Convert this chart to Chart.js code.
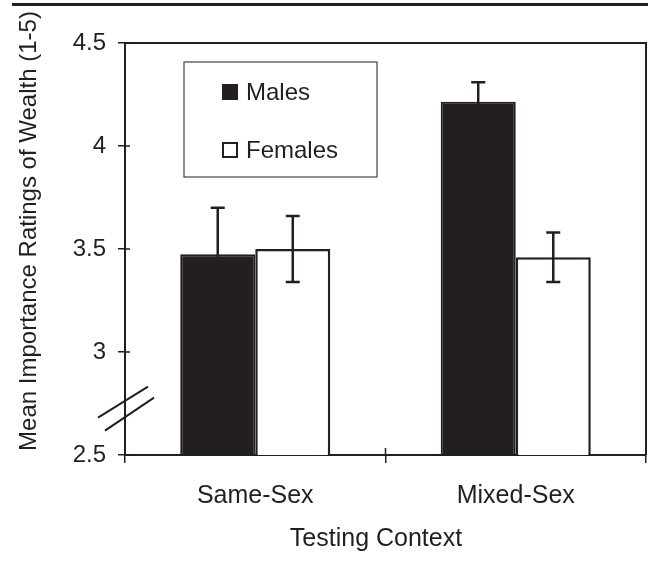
<!DOCTYPE html>
<html>
<head>
<meta charset="utf-8">
<script src="https://cdn.jsdelivr.net/npm/chart.js@4"></script>
<style>
  html, body { margin: 0; padding: 0; background: #ffffff; }
  #wrap { width: 648px; height: 569px; position: relative; }
</style>
</head>
<body>
<div id="wrap"><canvas id="c" width="648" height="569"></canvas></div>
<script>
// ---- data ----
const categories = ['Same-Sex', 'Mixed-Sex'];
const seriesNames = ['Males', 'Females'];
const malesMeans = [3.475, 4.215];
const femalesMeans = [3.50, 3.46];
const malesErr = [0.225, 0.095];
const femalesErr = [0.16, 0.12];
const yTicks = [2.5, 3, 3.5, 4, 4.5];
const yTitle = 'Mean Importance Ratings of Wealth (1-5)';
const xTitle = 'Testing Context';

const INK = '#231f20';
const FONT = "'Liberation Sans', Arial, sans-serif";

const errorsByDataset = [malesErr, femalesErr];

const decorPlugin = {
  id: 'decor',
  afterDatasetsDraw(chart) {
    const ctx = chart.ctx;
    const y = chart.scales.y;
    ctx.save();
    ctx.strokeStyle = INK;
    ctx.lineWidth = 2.5;
    chart.data.datasets.forEach((ds, di) => {
      const meta = chart.getDatasetMeta(di);
      meta.data.forEach((bar, i) => {
        const v = ds.data[i];
        const e = errorsByDataset[di][i];
        const x = bar.x;
        const yt = y.getPixelForValue(v + e);
        const yb = y.getPixelForValue(v - e);
        ctx.beginPath();
        ctx.moveTo(x, yt); ctx.lineTo(x, yb);
        ctx.moveTo(x - 7, yt); ctx.lineTo(x + 7, yt);
        ctx.moveTo(x - 7, yb); ctx.lineTo(x + 7, yb);
        ctx.stroke();
      });
    });
    ctx.restore();
  },
  afterDraw(chart) {
    const ctx = chart.ctx;
    const a = chart.chartArea;
    const y = chart.scales.y;
    const x = chart.scales.x;
    ctx.save();
    // top rule of the figure
    ctx.fillStyle = INK;
    ctx.fillRect(12, 3, 636, 3);
    // plot frame top & right
    ctx.strokeStyle = INK;
    ctx.lineWidth = 2;
    ctx.beginPath();
    ctx.moveTo(a.left, a.top); ctx.lineTo(a.right, a.top); ctx.lineTo(a.right, a.bottom);
    ctx.stroke();
    // inner tick stubs
    ctx.lineWidth = 1.5;
    ctx.beginPath();
    yTicks.forEach(t => {
      const py = y.getPixelForValue(t);
      ctx.moveTo(a.left, py); ctx.lineTo(a.left + 5, py);
    });
    const midX = (x.getPixelForValue(0) + x.getPixelForValue(1)) / 2;
    ctx.moveTo(midX, a.bottom); ctx.lineTo(midX, a.bottom - 7);
    ctx.stroke();
    // axis break marks
    const by = y.getPixelForValue(2.73);
    ctx.lineWidth = 2;
    ctx.beginPath();
    ctx.moveTo(a.left - 27, by + 10); ctx.lineTo(a.left + 23, by - 21);
    ctx.moveTo(a.left - 20, by + 23); ctx.lineTo(a.left + 29, by - 10);
    ctx.stroke();
    // legend box
    const lx = a.left + 59, ly = a.top + 19, lw = 193, lh = 115;
    ctx.lineWidth = 1.2;
    ctx.strokeStyle = '#444';
    ctx.strokeRect(lx, ly, lw, lh);
    ctx.font = '24px ' + FONT;
    ctx.textBaseline = 'middle';
    ctx.textAlign = 'left';
    const rows = [ly + 30, ly + 88];
    chart.data.datasets.forEach((ds, di) => {
      const cy = rows[di];
      if (di === 0) {
        ctx.fillStyle = INK;
        ctx.fillRect(lx + 38, cy - 8, 16, 16);
      } else {
        ctx.fillStyle = '#fff';
        ctx.fillRect(lx + 38, cy - 8, 16, 16);
        ctx.strokeStyle = INK;
        ctx.lineWidth = 2;
        ctx.strokeRect(lx + 39, cy - 7, 14, 14);
      }
      ctx.fillStyle = INK;
      ctx.fillText(ds.label, lx + 62, cy + 1);
    });
    // axis titles
    ctx.fillStyle = INK;
    ctx.font = '25px ' + FONT;
    ctx.textAlign = 'center';
    ctx.textBaseline = 'middle';
    ctx.fillText(xTitle, 376, 539);
    ctx.font = '24px ' + FONT;
    ctx.translate(29, 231);
    ctx.rotate(-Math.PI / 2);
    ctx.fillText(yTitle, 0, 0);
    ctx.restore();
  }
};

new Chart(document.getElementById('c'), {
  type: 'bar',
  data: {
    labels: categories,
    datasets: [
      {
        label: seriesNames[0],
        data: malesMeans,
        backgroundColor: INK,
        borderColor: INK,
        borderWidth: 2
      },
      {
        label: seriesNames[1],
        data: femalesMeans,
        backgroundColor: '#ffffff',
        borderColor: INK,
        borderWidth: 2.5
      }
    ]
  },
  options: {
    responsive: false,
    animation: false,
    devicePixelRatio: 1,
    layout: { padding: { left: 0, right: 2, top: 43, bottom: 0 } },
    datasets: { bar: { categoryPercentage: 0.576, barPercentage: 1.0 } },
    plugins: {
      legend: { display: false },
      tooltip: { enabled: false }
    },
    scales: {
      x: {
        offset: true,
        grid: {
          offset: true,
          drawOnChartArea: false,
          drawTicks: true,
          tickLength: 8,
          color: INK,
          lineWidth: 1.5
        },
        border: { display: true, color: INK, width: 2 },
        ticks: {
          color: INK,
          font: { family: FONT, size: 25 },
          padding: 18,
          maxRotation: 0
        },
        title: { display: false },
        afterFit(scale) { scale.height = 114; }
      },
      y: {
        min: 2.5,
        max: 4.5,
        afterBuildTicks(scale) { scale.ticks = yTicks.map(v => ({ value: v })); },
        grid: {
          drawOnChartArea: false,
          drawTicks: true,
          tickLength: 7,
          color: INK,
          lineWidth: 1.5
        },
        border: { display: true, color: INK, width: 2 },
        ticks: {
          color: INK,
          font: { family: FONT, size: 24 },
          padding: 12,
          callback: v => String(v)
        },
        title: { display: false },
        afterFit(scale) { scale.width = 125; }
      }
    }
  },
  plugins: [decorPlugin]
});
</script>
</body>
</html>
